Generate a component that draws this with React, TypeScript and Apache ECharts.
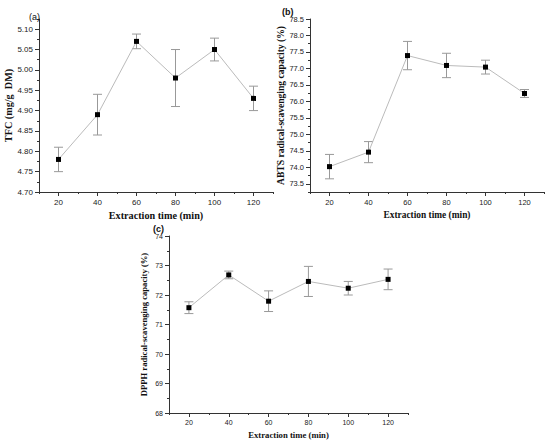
import { useEffect, useRef } from "react";
import * as echarts from "echarts";

const times = [20, 40, 60, 80, 100, 120];
const xTicks = [20, 40, 60, 80, 100, 120];
const xMinor = [10, 30, 50, 70, 90, 110, 130];

const tfc = [4.78, 4.89, 5.07, 4.98, 5.05, 4.93];
const tfcErr = [0.03, 0.05, 0.018, 0.07, 0.028, 0.03];
const tfcTicks = [4.7, 4.75, 4.8, 4.85, 4.9, 4.95, 5.0, 5.05, 5.1];
const tfcMinor = [4.725, 4.775, 4.825, 4.875, 4.925, 4.975, 5.025, 5.075, 5.125];

const abts = [74.02, 74.46, 77.39, 77.09, 77.04, 76.24];
const abtsErr = [0.37, 0.32, 0.43, 0.37, 0.21, 0.12];
const abtsTicks = [73.5, 74.0, 74.5, 75.0, 75.5, 76.0, 76.5, 77.0, 77.5, 78.0, 78.5];
const abtsMinor = [73.25, 73.75, 74.25, 74.75, 75.25, 75.75, 76.25, 76.75, 77.25, 77.75, 78.25];

const dpph = [71.57, 72.68, 71.79, 72.46, 72.23, 72.53];
const dpphErr = [0.2, 0.13, 0.35, 0.51, 0.23, 0.35];
const dpphTicks = [68, 69, 70, 71, 72, 73, 74];
const dpphMinor = [68.5, 69.5, 70.5, 71.5, 72.5, 73.5];

const sans = "Liberation Sans";
const serif = "Liberation Serif";
const axisColor = "#333";

const xAxisFor = (gridIndex: number, nameGap: number, nameSize: number, labelSize: number) => [
  {
    type: "value",
    gridIndex,
    position: "bottom",
    min: 10,
    max: 130,
    name: "Extraction time (min)",
    nameLocation: "middle",
    nameGap,
    nameTextStyle: { fontFamily: serif, fontWeight: "bold", fontSize: nameSize, color: "#111" },
    axisLine: { lineStyle: { color: axisColor, width: 1 } },
    axisTick: { length: 4, customValues: xTicks, lineStyle: { color: axisColor } },
    axisLabel: { customValues: xTicks, fontFamily: sans, fontSize: labelSize, color: "#222", margin: 6 },
    splitLine: { show: false },
  },
  {
    type: "value",
    gridIndex,
    position: "bottom",
    min: 10,
    max: 130,
    axisLine: { show: false },
    axisTick: { length: 2, customValues: xMinor, lineStyle: { color: axisColor } },
    axisLabel: { show: false },
    splitLine: { show: false },
  },
];

const yAxisFor = (
  gridIndex: number,
  name: string,
  min: number,
  max: number,
  ticks: number[],
  minor: number[],
  digits: number,
  nameGap: number,
  nameSize: number,
  labelSize: number
) => [
  {
    type: "value",
    gridIndex,
    position: "left",
    min,
    max,
    name,
    nameLocation: "middle",
    nameGap,
    nameTextStyle: { fontFamily: serif, fontWeight: "bold", fontSize: nameSize, color: "#111" },
    axisLine: { show: true, lineStyle: { color: axisColor, width: 1 } },
    axisTick: { show: true, length: 4, customValues: ticks, lineStyle: { color: axisColor } },
    axisLabel: {
      customValues: ticks,
      fontFamily: sans,
      fontSize: labelSize,
      color: "#222",
      margin: 6,
      formatter: (v: number) => v.toFixed(digits),
    },
    splitLine: { show: false },
  },
  {
    type: "value",
    gridIndex,
    position: "left",
    min,
    max,
    axisLine: { show: false },
    axisTick: { show: true, length: 2, customValues: minor, lineStyle: { color: axisColor } },
    axisLabel: { show: false },
    splitLine: { show: false },
  },
];

const errorSeries = (axisIndex: number, values: number[], errs: number[]) => ({
  type: "custom",
  xAxisIndex: axisIndex,
  yAxisIndex: axisIndex,
  z: 1,
  silent: true,
  data: times.map((t, i) => [t, values[i] - errs[i], values[i] + errs[i]]),
  renderItem: (_params: any, api: any) => {
    const x = api.value(0);
    const top = api.coord([x, api.value(2)]);
    const bot = api.coord([x, api.value(1)]);
    const w = 4.5;
    const style = { stroke: "#999", lineWidth: 1 };
    return {
      type: "group",
      children: [
        { type: "line", shape: { x1: top[0], y1: top[1], x2: bot[0], y2: bot[1] }, style },
        { type: "line", shape: { x1: top[0] - w, y1: top[1], x2: top[0] + w, y2: top[1] }, style },
        { type: "line", shape: { x1: bot[0] - w, y1: bot[1], x2: bot[0] + w, y2: bot[1] }, style },
      ],
    };
  },
});

const lineSeries = (axisIndex: number, values: number[]) => ({
  type: "line",
  xAxisIndex: axisIndex,
  yAxisIndex: axisIndex,
  z: 3,
  data: times.map((t, i) => [t, values[i]]),
  symbol: "rect",
  symbolSize: 5,
  lineStyle: { color: "#bbb", width: 1 },
  itemStyle: { color: "#000" },
});

export default function App() {
  const chartRef = useRef<HTMLDivElement | null>(null);

  useEffect(() => {
    document.body.style.margin = "0";
    if (!chartRef.current) return;
    const chart = echarts.init(chartRef.current, null, { renderer: "svg" });
    chart.setOption({
      animation: false,
      backgroundColor: "#fff",
      title: [
        { text: "(a)", left: 24, top: 7, textStyle: { fontFamily: sans, fontSize: 9, fontWeight: "normal", color: "#111" } },
        { text: "(b)", left: 277, top: 2, textStyle: { fontFamily: sans, fontSize: 9, fontWeight: "bold", color: "#111" } },
        { text: "(c)", left: 148, top: 219, textStyle: { fontFamily: sans, fontSize: 9, fontWeight: "bold", color: "#111" } },
      ],
      grid: [
        { left: 39, top: 19, width: 234, height: 173 },
        { left: 310, top: 19, width: 234, height: 173 },
        { left: 169, top: 236, width: 239, height: 177 },
      ],
      xAxis: [...xAxisFor(0, 18, 10.2, 8), ...xAxisFor(1, 18, 9.4, 7.5), ...xAxisFor(2, 17, 8.7, 7)],
      yAxis: [
        ...yAxisFor(0, "TFC (mg/g  DM)", 4.7, 5.125, tfcTicks, tfcMinor, 2, 24, 10.2, 8),
        ...yAxisFor(1, "ABTS radical-scavenging capacity (%)", 73.25, 78.5, abtsTicks, abtsMinor, 1, 24, 9.6, 7.5),
        ...yAxisFor(2, "DPPH radical-scavenging capacity (%)", 68, 74, dpphTicks, dpphMinor, 0, 21, 8.6, 7),
      ],
      series: [
        errorSeries(0, tfc, tfcErr),
        lineSeries(0, tfc),
        errorSeries(2, abts, abtsErr),
        lineSeries(2, abts),
        errorSeries(4, dpph, dpphErr),
        lineSeries(4, dpph),
      ],
    });
    return () => chart.dispose();
  }, []);

  return <div ref={chartRef} style={{ width: "550px", height: "446px" }} />;
}
